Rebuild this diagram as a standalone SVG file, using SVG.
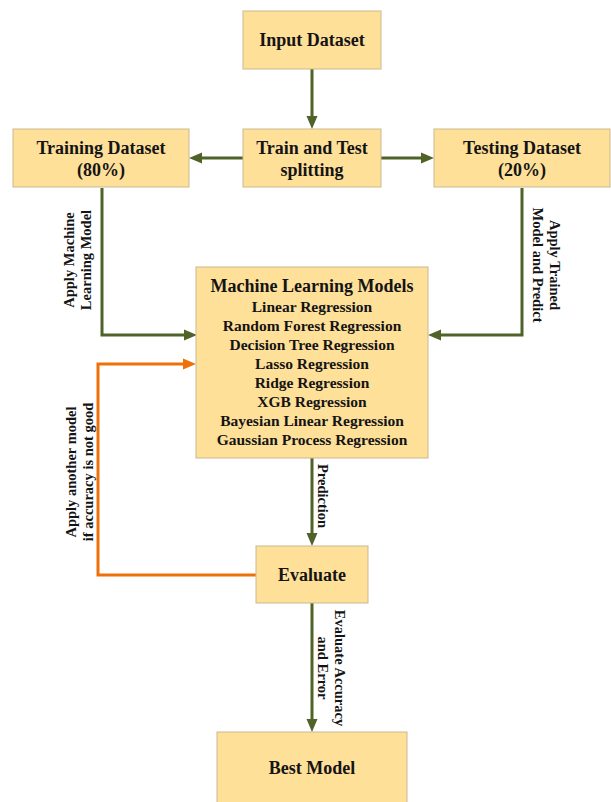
<svg xmlns="http://www.w3.org/2000/svg" width="611" height="802" viewBox="0 0 611 802">
  <defs>
    <style>
      .box { fill: #FFE099; stroke: #C9B98E; stroke-width: 1; }
      .t { font-family: "Liberation Serif", "Times New Roman", serif; font-weight: bold; fill: #141414; text-anchor: middle; }
      .big { font-size: 18px; }
      .item { font-size: 15.5px; }
      .lbl { font-size: 14.5px; }
      .g { fill: none; stroke: #4F6228; stroke-width: 3; }
      .o { fill: none; stroke: #EE7008; stroke-width: 3; }
    </style>
    <marker id="ag" markerUnits="userSpaceOnUse" markerWidth="14" markerHeight="12" refX="5" refY="6" orient="auto">
      <path d="M0,0.5 L13,6 L0,11.5 z" fill="#4F6228"/>
    </marker>
    <marker id="ao" markerUnits="userSpaceOnUse" markerWidth="14" markerHeight="12" refX="5" refY="6" orient="auto">
      <path d="M0,0.5 L13,6 L0,11.5 z" fill="#EE7008"/>
    </marker>
  </defs>
  <rect width="611" height="802" fill="#FFFFFF"/>

  <g id="connectors">
    <path class="g" d="M312,69 V121" marker-end="url(#ag)"/>
    <path class="g" d="M243,158 H197" marker-end="url(#ag)"/>
    <path class="g" d="M381,158 H426" marker-end="url(#ag)"/>
    <path class="g" d="M102,188 V335 H189" marker-end="url(#ag)"/>
    <path class="g" d="M522,188 V335 H436" marker-end="url(#ag)"/>
    <path class="g" d="M312,458 V538" marker-end="url(#ag)"/>
    <path class="g" d="M312,603 V724" marker-end="url(#ag)"/>
    <path class="o" d="M256,575 H98 V364 H188" marker-end="url(#ao)"/>
    <text class="t lbl" transform="translate(82.5,260) rotate(-90)"><tspan x="0" y="-8.5">Apply Machine</tspan><tspan x="0" y="8.5">Learning Model</tspan></text>
    <text class="t lbl" transform="translate(541.5,265) rotate(90)"><tspan x="0" y="-8.5">Apply Trained</tspan><tspan x="0" y="8.5">Model and Predict</tspan></text>
    <text class="t lbl" transform="translate(84,472) rotate(-90)"><tspan x="0" y="-8.5">Apply another model</tspan><tspan x="0" y="8.5">if accuracy is not good</tspan></text>
    <text class="t lbl" transform="translate(317.5,496) rotate(90)" x="0" y="0">Prediction</text>
    <text class="t lbl" transform="translate(326.5,668) rotate(90)"><tspan x="0" y="-8.5">Evaluate Accuracy</tspan><tspan x="0" y="8.5">and Error</tspan></text>
  </g>

  <g id="input">
    <rect class="box" x="243" y="11" width="138" height="58"/>
    <text class="t big" x="312" y="46">Input Dataset</text>
  </g>
  <g id="split">
    <rect class="box" x="243" y="129" width="138" height="58"/>
    <text class="t big" x="312" y="154">Train and Test</text>
    <text class="t big" x="312" y="176">splitting</text>
  </g>
  <g id="training">
    <rect class="box" x="13" y="129" width="176" height="58"/>
    <text class="t big" x="101" y="154">Training Dataset</text>
    <text class="t big" x="101" y="176">(80%)</text>
  </g>
  <g id="testing">
    <rect class="box" x="434" y="129" width="176" height="58"/>
    <text class="t big" x="522" y="154">Testing Dataset</text>
    <text class="t big" x="522" y="176">(20%)</text>
  </g>
  <g id="models">
    <rect class="box" x="196" y="267" width="232" height="191"/>
    <text class="t big" x="312" y="292">Machine Learning Models</text>
    <text class="t item" x="312" y="312">Linear Regression</text>
    <text class="t item" x="312" y="331">Random Forest Regression</text>
    <text class="t item" x="312" y="350">Decision Tree Regression</text>
    <text class="t item" x="312" y="369">Lasso Regression</text>
    <text class="t item" x="312" y="388">Ridge Regression</text>
    <text class="t item" x="312" y="407">XGB Regression</text>
    <text class="t item" x="312" y="426">Bayesian Linear Regression</text>
    <text class="t item" x="312" y="445">Gaussian Process Regression</text>
  </g>
  <g id="evaluate">
    <rect class="box" x="256" y="546" width="112" height="57"/>
    <text class="t big" x="312" y="581">Evaluate</text>
  </g>
  <g id="best">
    <rect class="box" x="217" y="732" width="190" height="75"/>
    <text class="t big" x="312" y="774">Best Model</text>
  </g>
</svg>
